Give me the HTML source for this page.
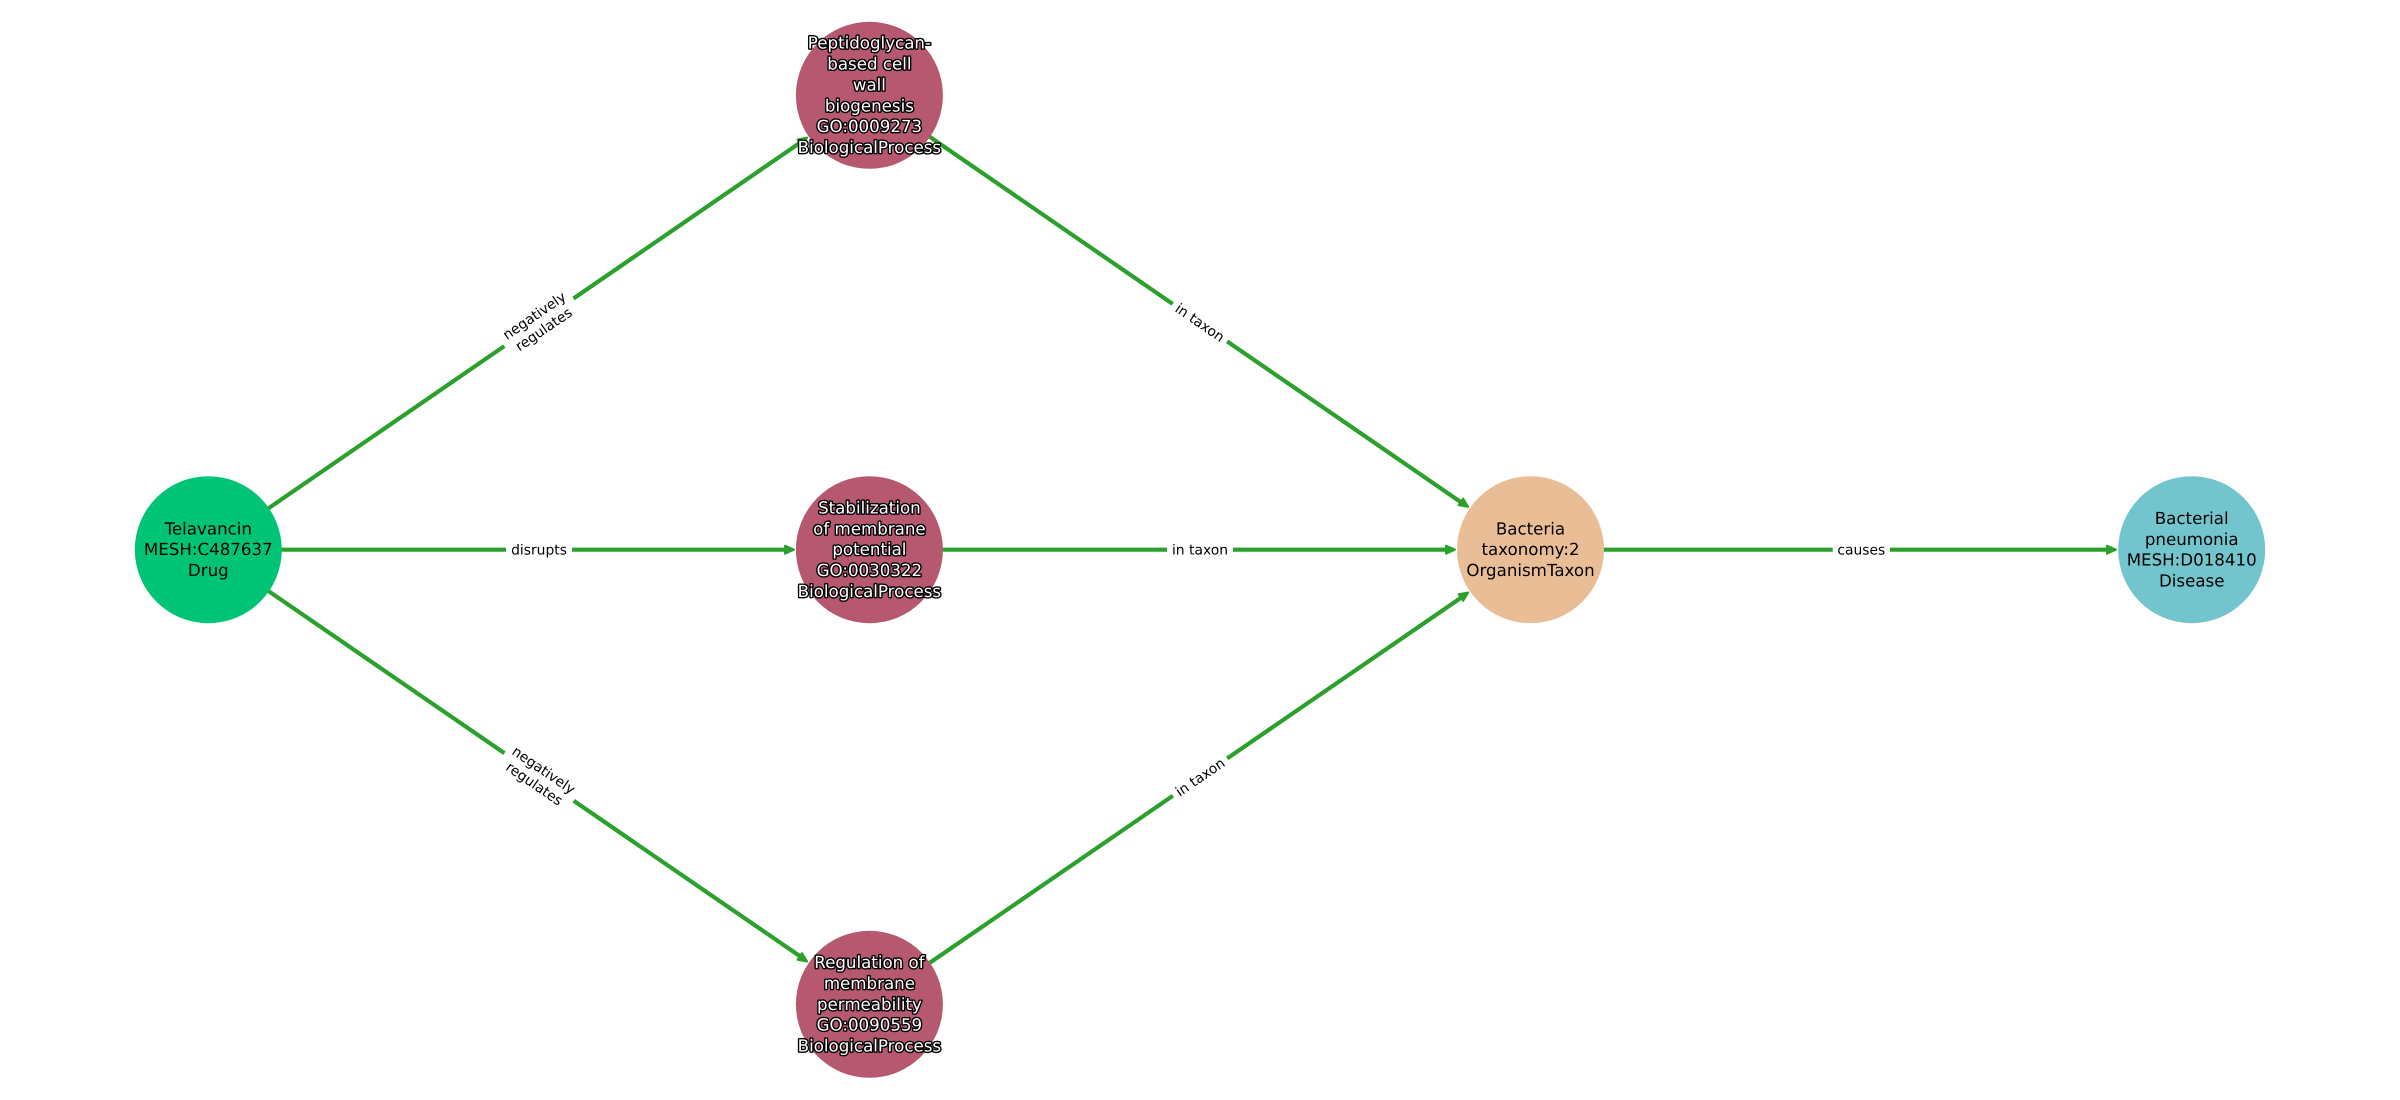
<!DOCTYPE html>
<html><head><meta charset="utf-8"><style>
html,body{margin:0;padding:0;background:#fff}
svg{display:block}
text{font-family:"DejaVu Sans",sans-serif;text-anchor:middle;text-rendering:geometricPrecision}
.n{font-size:16.67px;fill:#000}
.h{font-size:16.67px;fill:#fff;stroke:#000;stroke-width:2.8px;paint-order:stroke;stroke-linejoin:round}
.e{font-size:13.89px;fill:#000}
.l{stroke:#2ca02c;stroke-width:4.17;fill:none}
.a{fill:#2ca02c;stroke:#2ca02c;stroke-width:2;stroke-linejoin:round}
</style></head><body>
<svg width="2400" height="1100" viewBox="0 0 2400 1100" xmlns="http://www.w3.org/2000/svg">
<rect width="2400" height="1100" fill="#fff"/>
<line class="l" x1="208.3" y1="549.7" x2="804" y2="140"/>
<line class="l" x1="869.4" y1="95.3" x2="1465" y2="505"/>
<line class="l" x1="208.3" y1="549.7" x2="790" y2="549.7"/>
<line class="l" x1="869.4" y1="549.7" x2="1451" y2="549.7"/>
<line class="l" x1="208.3" y1="549.7" x2="804" y2="959"/>
<line class="l" x1="869.4" y1="1004.3" x2="1465" y2="595"/>
<line class="l" x1="1530.5" y1="549.7" x2="2112" y2="549.7"/>
<polygon class="a" points="-10,-4 -1,0 -10,4" transform="translate(808,137.1) rotate(-34.5)"/>
<polygon class="a" points="-10,-4 -1,0 -10,4" transform="translate(1469.1,507.5) rotate(34.5)"/>
<polygon class="a" points="-10,-4 -1,0 -10,4" transform="translate(795,549.7)"/>
<polygon class="a" points="-10,-4 -1,0 -10,4" transform="translate(1456,549.7)"/>
<polygon class="a" points="-10,-4 -1,0 -10,4" transform="translate(808,962.1) rotate(34.5)"/>
<polygon class="a" points="-10,-4 -1,0 -10,4" transform="translate(1469.1,591.9) rotate(-34.5)"/>
<polygon class="a" points="-10,-4 -1,0 -10,4" transform="translate(2117,549.7)"/>
<circle cx="208.3" cy="549.7" r="73.5" fill="#00c475"/>
<circle cx="869.4" cy="95.3" r="73.5" fill="#b55870"/>
<circle cx="869.4" cy="549.7" r="73.5" fill="#b55870"/>
<circle cx="869.4" cy="1004.3" r="73.5" fill="#b55870"/>
<circle cx="1530.5" cy="549.7" r="73.5" fill="#e9bd96"/>
<circle cx="2191.7" cy="549.7" r="73.5" fill="#72c5cc"/>
<g transform="translate(539,322.5) rotate(-34.5)">
<rect x="-42" y="-19" width="84" height="38" fill="#fff"/>
<text class="e" y="-3.5">negatively</text>
<text class="e" y="13">regulates</text>
</g>
<g transform="translate(1200,322.5) rotate(34.5)">
<rect x="-33" y="-10" width="66" height="20" fill="#fff"/>
<text class="e" y="5">in taxon</text>
</g>
<g transform="translate(539,777) rotate(34.5)">
<rect x="-42" y="-19" width="84" height="38" fill="#fff"/>
<text class="e" y="-3.5">negatively</text>
<text class="e" y="13">regulates</text>
</g>
<g transform="translate(1200,777) rotate(-34.5)">
<rect x="-33" y="-10" width="66" height="20" fill="#fff"/>
<text class="e" y="5">in taxon</text>
</g>
<rect x="506" y="539" width="66" height="21" fill="#fff"/>
<text class="e" x="539" y="554.7">disrupts</text>
<rect x="1167" y="539" width="66" height="21" fill="#fff"/>
<text class="e" x="1200" y="554.7">in taxon</text>
<rect x="1832.7" y="539" width="57.3" height="21" fill="#fff"/>
<text class="e" x="1861.3" y="554.7">causes</text>
<text class="n" x="208.3" y="534.4">Telavancin</text>
<text class="n" x="208.3" y="555.2">MESH:C487637</text>
<text class="n" x="208.3" y="576.1">Drug</text>
<text class="n" x="1530.5" y="534.4">Bacteria</text>
<text class="n" x="1530.5" y="555.2">taxonomy:2</text>
<text class="n" x="1530.5" y="576.1">OrganismTaxon</text>
<text class="n" x="2191.7" y="524">Bacterial</text>
<text class="n" x="2191.7" y="544.8">pneumonia</text>
<text class="n" x="2191.7" y="565.7">MESH:D018410</text>
<text class="n" x="2191.7" y="586.5">Disease</text>
<text class="h" x="869.4" y="48.7">Peptidoglycan-</text>
<text class="h" x="869.4" y="69.6">based cell</text>
<text class="h" x="869.4" y="90.4">wall</text>
<text class="h" x="869.4" y="111.3">biogenesis</text>
<text class="h" x="869.4" y="132.1">GO:0009273</text>
<text class="h" x="869.4" y="153">BiologicalProcess</text>
<text class="h" x="869.4" y="513.6">Stabilization</text>
<text class="h" x="869.4" y="534.4">of membrane</text>
<text class="h" x="869.4" y="555.2">potential</text>
<text class="h" x="869.4" y="576.1">GO:0030322</text>
<text class="h" x="869.4" y="596.9">BiologicalProcess</text>
<text class="h" x="869.4" y="968.2">Regulation of</text>
<text class="h" x="869.4" y="989">membrane</text>
<text class="h" x="869.4" y="1009.8">permeability</text>
<text class="h" x="869.4" y="1030.7">GO:0090559</text>
<text class="h" x="869.4" y="1051.5">BiologicalProcess</text>
</svg>
</body></html>
